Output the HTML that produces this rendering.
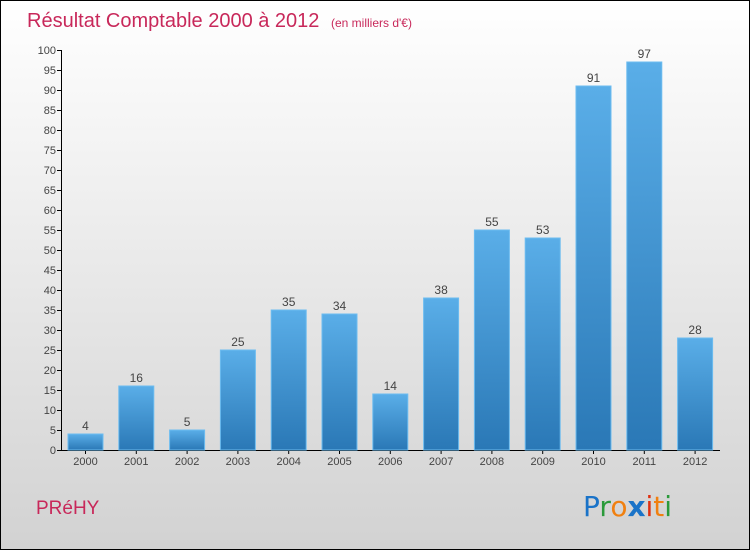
<!DOCTYPE html>
<html><head><meta charset="utf-8"><style>
html,body{margin:0;padding:0}
body{width:750px;height:550px;overflow:hidden;font-family:"Liberation Sans",sans-serif}
</style></head><body>
<svg id="chart" width="750" height="550" xmlns="http://www.w3.org/2000/svg">
<defs>
<linearGradient id="bg" x1="0" y1="0" x2="0" y2="1"><stop offset="0" stop-color="#ffffff"/><stop offset="1" stop-color="#d2d2d2"/></linearGradient>
<linearGradient id="bar" x1="0" y1="0" x2="0" y2="1"><stop offset="0" stop-color="#5aaee8"/><stop offset="1" stop-color="#2a78b6"/></linearGradient>
</defs>
<rect x="0.5" y="0.5" width="749" height="549" fill="url(#bg)" stroke="#000"/>
<text x="27" y="27" font-size="20" fill="#c8285a">Résultat Comptable 2000 à 2012 <tspan font-size="12" dx="6">(en milliers d'€)</tspan></text>
<text x="36" y="514" font-size="19" fill="#c8285a">PRéHY</text>
<g font-size="28" font-family="'DejaVu Sans',sans-serif">
<text x="583" y="516" fill="#1a73c8">P<tspan fill="#2a9a3a">r</tspan><tspan fill="#f08010">o</tspan><tspan fill="#1a73c8" font-weight="bold">x</tspan><tspan fill="#e03010">i</tspan><tspan fill="#f08010">t</tspan><tspan fill="#2a9a3a">i</tspan></text>
</g>
<g id="axes"></g>
<g id="bars"></g>
</svg>
<script>
const years=["2000","2001","2002","2003","2004","2005","2006","2007","2008","2009","2010","2011","2012"];
const values=[4,16,5,25,35,34,14,38,55,53,91,97,28];
const yTicks=[0,5,10,15,20,25,30,35,40,45,50,55,60,65,70,75,80,85,90,95,100];
const NS="http://www.w3.org/2000/svg";
function y(v){return 450-v*4;}
function xc(i){return 85.5+i*50.8;}
function mk(t,a,p){const e=document.createElementNS(NS,t);for(const k in a)e.setAttribute(k,a[k]);p.appendChild(e);return e;}
const ax=document.getElementById('axes'),bg=document.getElementById('bars');
const yl=mk('line',{x1:61.5,y1:50,x2:61.5,y2:450.5,stroke:'#000'},ax);


const xl=mk('line',{x1:61,y1:450.5,x2:720,y2:450.5,stroke:'#000'},ax);


yTicks.forEach(v=>{
 const tk=mk('line',{x1:57,y1:y(v)+0.5,x2:61,y2:y(v)+0.5,stroke:'#000'},ax);
 
 
 const t=mk('text',{x:56,y:y(v)+4,'font-size':11,'text-anchor':'end',fill:'#444'},ax);
 t.textContent=v;
 
 
});
years.forEach((yr,i)=>{
 const c=xc(i);
 const tk=mk('line',{x1:c,y1:450,x2:c,y2:454,stroke:'#000'},ax);
 
 
 const t=mk('text',{x:c,y:465,'font-size':11,'text-anchor':'middle',fill:'#444'},ax);
 t.textContent=yr;
 
 
 const v=values[i];
 const r=mk('rect',{x:c-17.5,y:y(v),width:35,height:450-y(v),fill:'url(#bar)',stroke:'#6cbcf0','stroke-width':1},bg);
 
 
 const l=mk('text',{x:c,y:y(v)-4,'font-size':12,'text-anchor':'middle',fill:'#444'},bg);
 l.textContent=v;
 
 
});
</script>
</body></html>
